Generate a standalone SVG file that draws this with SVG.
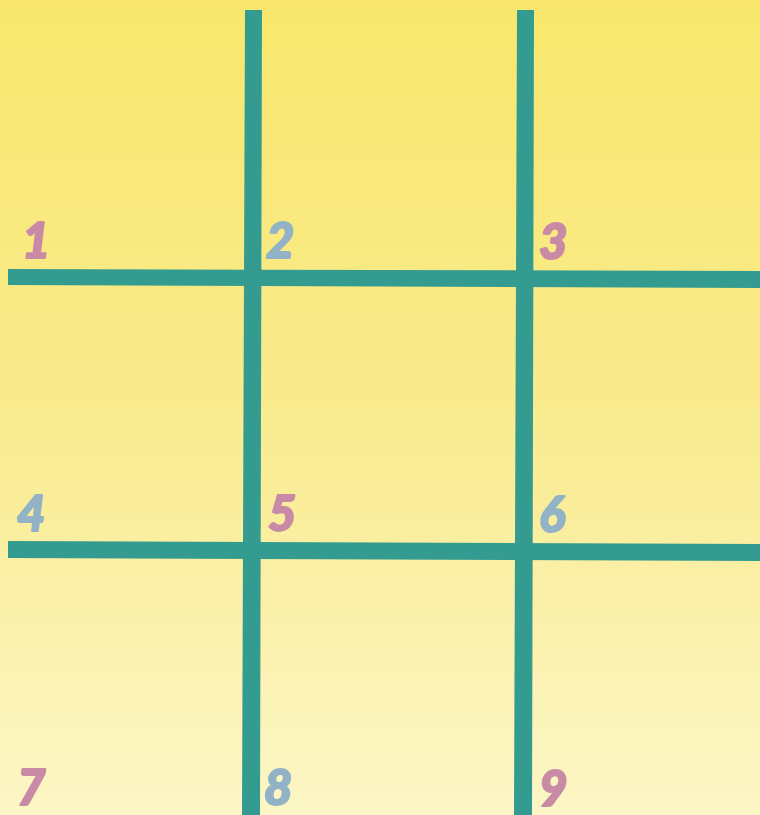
<svg xmlns="http://www.w3.org/2000/svg" width="760" height="815" viewBox="0 0 760 815">
  <defs>
    <linearGradient id="bg" x1="0" y1="0" x2="0" y2="1">
      <stop offset="0" stop-color="#f9e76c"/>
      <stop offset="0.5" stop-color="#f9eb8e"/>
      <stop offset="1" stop-color="#fcf6c6"/>
    </linearGradient>
  </defs>
  <style>
    .grid { fill: #339b8f; }
    .num { font-family: "Lato", "DejaVu Sans", sans-serif; font-weight: 900; font-style: italic; font-size: 49px; stroke-width: 2px; stroke-linejoin: round; }
    .pink { fill: #c98aa6; stroke: #c98aa6; }
    .blue { fill: #92b3c6; stroke: #92b3c6; }
  </style>
  <rect x="0" y="0" width="760" height="815" fill="url(#bg)"/>
  <g id="grid">
    <polygon class="grid" points="245,10 262,10 260,815 242,815"/>
    <polygon class="grid" points="517,10 534,10 532,815 514,815"/>
    <polygon class="grid" points="8,269 760,271 760,288 8,285"/>
    <polygon class="grid" points="8,541 760,544 760,561 8,558"/>
  </g>
  <g id="n1"><text class="num pink" x="22" y="258">1</text></g>
  <g id="n2"><text class="num blue" x="266" y="258">2</text></g>
  <g id="n3"><text class="num pink" x="539" y="259">3</text></g>
  <g id="n4"><text class="num blue" x="17" y="531">4</text></g>
  <g id="n5"><text class="num pink" x="268" y="531">5</text></g>
  <g id="n6"><text class="num blue" x="539" y="532">6</text></g>
  <g id="n7"><text class="num pink" x="17" y="805">7</text></g>
  <g id="n8"><text class="num blue" x="264" y="805">8</text></g>
  <g id="n9"><text class="num pink" x="539" y="806">9</text></g>
</svg>
